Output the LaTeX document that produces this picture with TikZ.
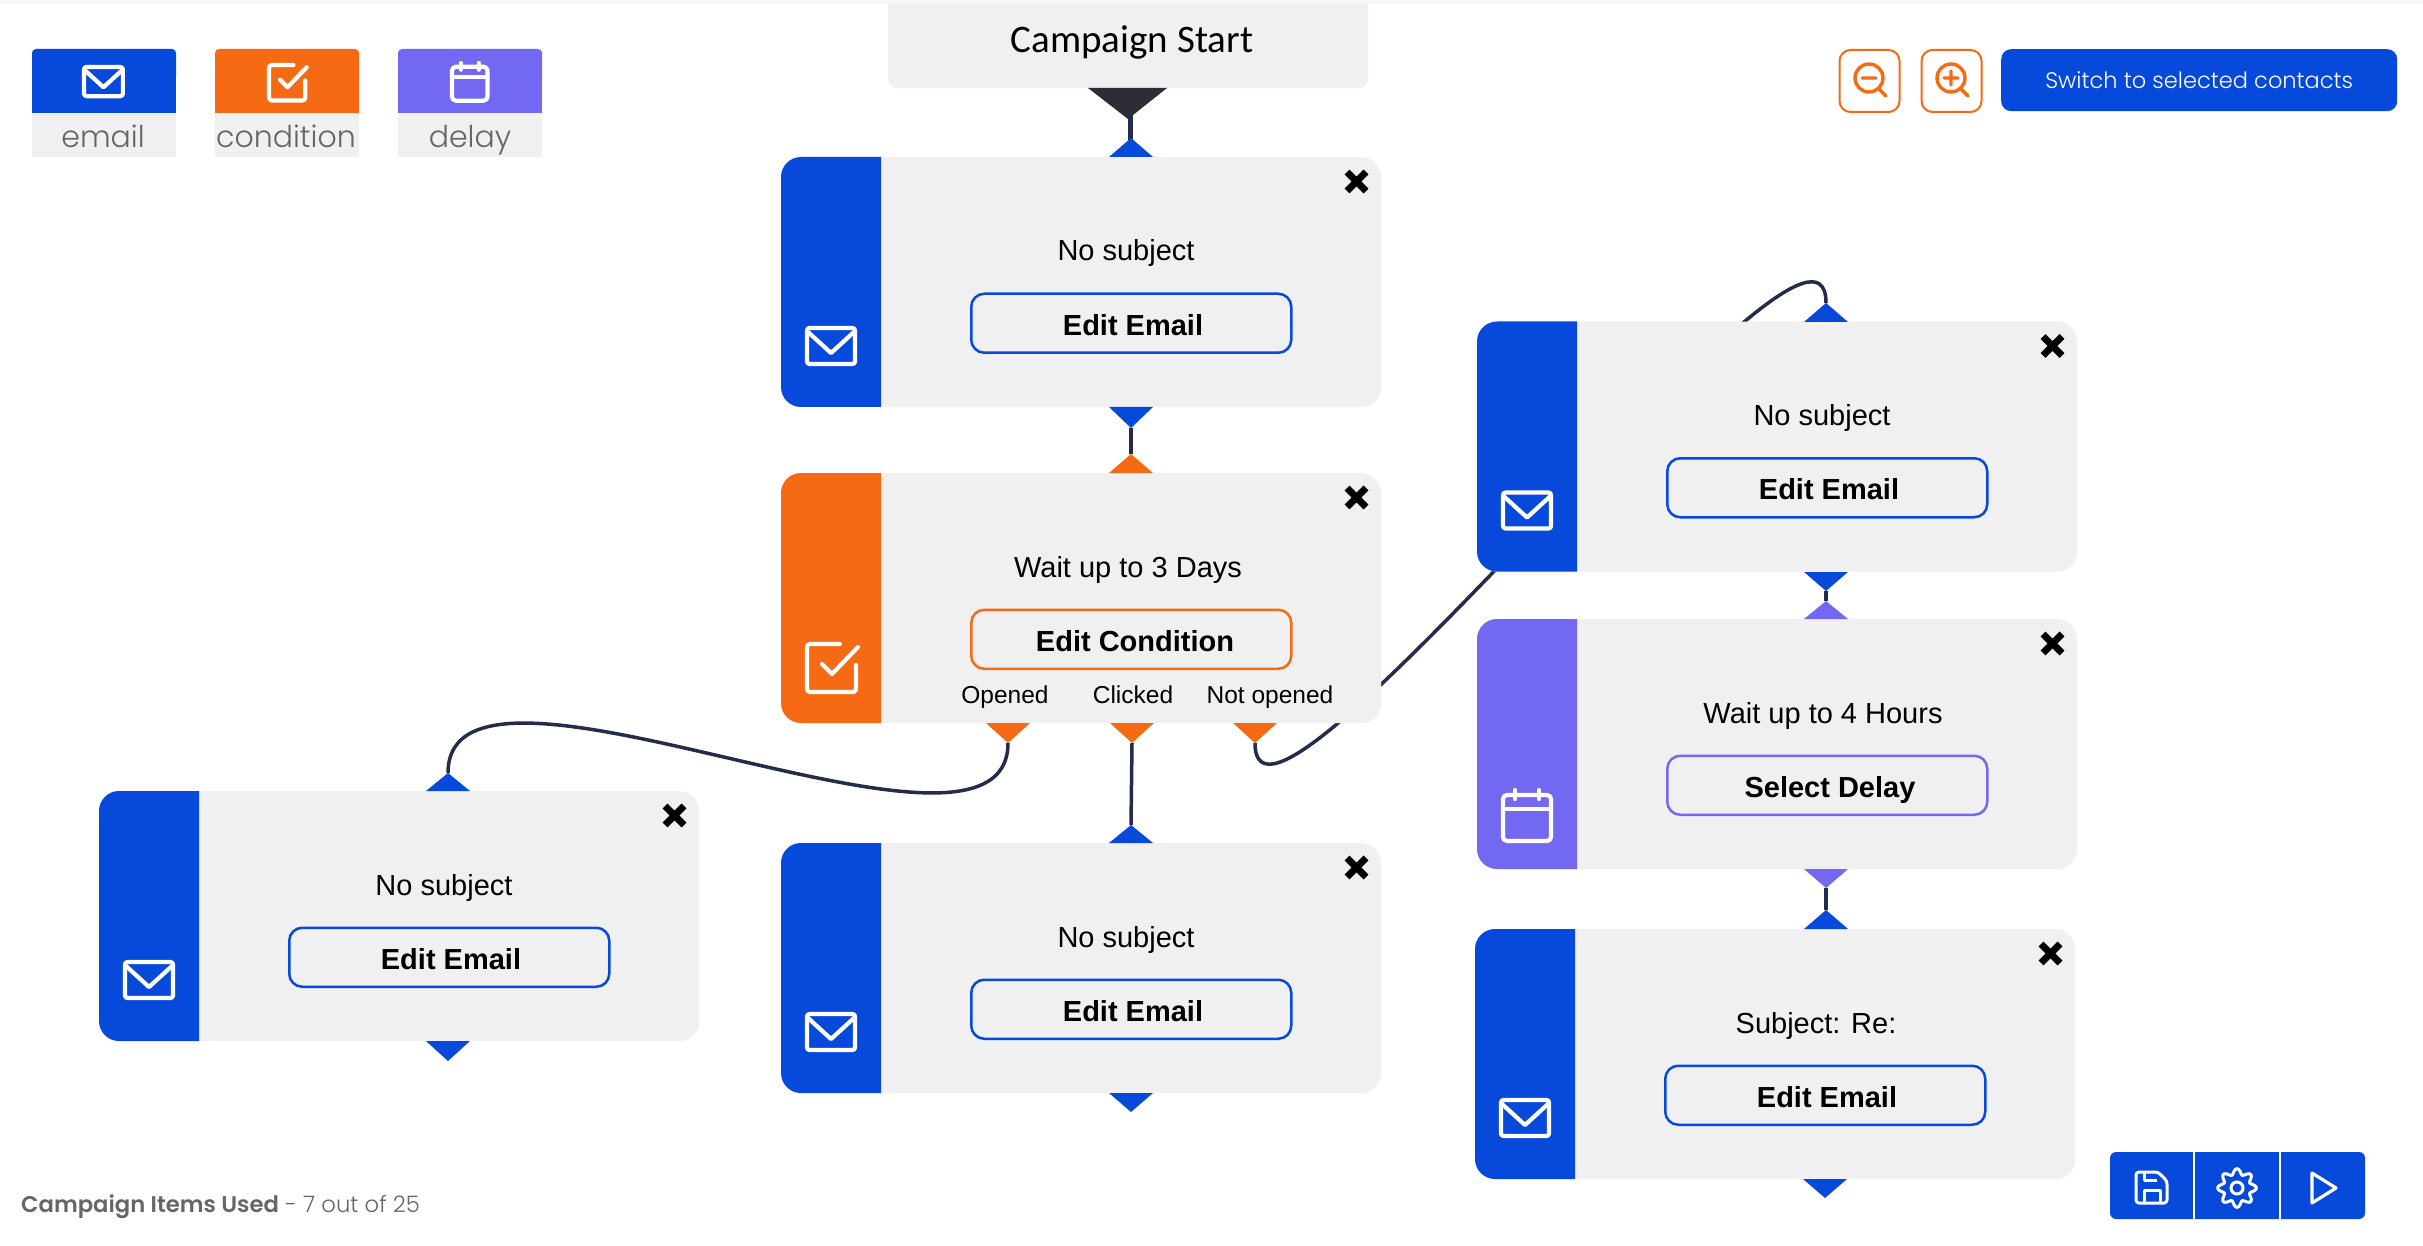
\documentclass[tikz,border=0pt]{standalone}
\usepackage{fontspec}
\setmainfont{Liberation Sans}
\newfontfamily\capfont{Carlito}
\newfontfamily\uifont[BoldFont={* SemiBold}]{Poppins}
\newfontfamily\uilight[UprightFont={* Light}]{Poppins}
\definecolor{cblue}{HTML}{074ADB}
\definecolor{corange}{HTML}{F56A12}
\definecolor{cpurple}{HTML}{7368F2}
\definecolor{cgrey}{HTML}{F0F0F0}
\definecolor{cwire}{HTML}{252B4A}
\definecolor{cdark}{HTML}{2D2D35}
\definecolor{ctext}{HTML}{666666}
\tikzset{
  cardbox/.style={fill=cgrey,draw=none,rounded corners=20pt,minimum width=600pt,minimum height=250pt,inner sep=0pt,anchor=north west},
  wire/.style={draw=cwire,line width=3.5pt},
  iconline/.style={draw=white,line width=4.2pt,line join=round,line cap=round},
  cardtext/.style={font=\fontsize{29}{33}\selectfont,text=black,inner sep=0pt},
  btntext/.style={font=\bfseries\fontsize{29}{33}\selectfont,text=black,inner sep=0pt,text depth=0pt},
  smalltext/.style={font=\fontsize{24.5}{28}\selectfont,text=black,inner sep=0pt,text depth=5pt},
  legendtext/.style={font=\uilight\fontsize{30}{34}\selectfont,text=ctext,inner sep=0pt,anchor=base},
  btnbox/.style={draw=#1,fill=cgrey,line width=2.5pt,rounded corners=13pt,minimum width=320pt,minimum height=59pt,inner sep=0pt,anchor=north west},
  zoombox/.style={draw=corange,fill=white,line width=2pt,rounded corners=11pt,minimum width=60pt,minimum height=62pt,inner sep=0pt,anchor=north west},
}
% envelope, check box and calendar, drawn from the top-left of a 49 wide icon box
\newcommand{\envicon}{%
  \draw[iconline,rounded corners=2.5pt] (0,0) rectangle (48,36);
  \draw[iconline] (1,4) -- (24,25) -- (47,4);}
\newcommand{\chkicon}{%
  \draw[iconline,rounded corners=3pt] (33,0) -- (0,0) -- (0,48) -- (49,48) -- (49,21);
  \draw[iconline] (15,20) -- (25,30) -- (51,3);}
\newcommand{\calicon}{%
  \draw[iconline,rounded corners=4pt] (0,5) rectangle (48,51);
  \draw[iconline] (0,19) -- (48,19);
  \draw[iconline] (12,0) -- (12,9);
  \draw[iconline] (36,0) -- (36,9);}
% \cardbody{name}{L}{T}{colour}{icon}{label}{label x}{button text}{button text x}
\newcommand{\cardbody}[9]{%
  \begin{scope}[shift={(#2,#3)}]
    \node[cardbox] (#1) at (0,0) {};
    \fill[#4] (100,0) [rounded corners=20pt] -- (0,0) -- (0,250) [sharp corners] -- (100,250) -- cycle;
    \begin{scope}[shift={(26,171)}]#5\end{scope}
    \draw[black,line width=7pt] (566,15) -- (585,34) (585,15) -- (566,34);
    \node[cardtext] (#1-label) at (#7,96.5) {#6};
    \node[btnbox=#4] (#1-button) at (189,135.5) {};
    \node[btntext] (#1-buttontext) at (#9,167.5) {#8};
  \end{scope}}
\newcommand{\tip}[5]{% x, base y, apex y, colour
  \fill[#4] (#1-22,#2) -- (#1+22,#2) -- (#1,#3) -- cycle;}
\begin{document}
\begin{tikzpicture}[x=1pt,y=-1pt]
\useasboundingbox (0,0) rectangle (2423,1246);
\fill[white] (0,0) rectangle (2423,1246);
\fill[black!3] (0,0) rectangle (2423,4);

% connector end points
\coordinate (startout) at (1130,115);
\coordinate (c1in) at (1130,140);
\coordinate (c1out) at (1131,428);
\coordinate (c2in) at (1131,454);
\coordinate (opened) at (1008,743);
\coordinate (clicked) at (1132,743);
\coordinate (notopened) at (1255,743);
\coordinate (leftin) at (448,773);
\coordinate (midin) at (1131,825);
\coordinate (rtin) at (1826,303);
\coordinate (rtout) at (1826,591);
\coordinate (pin) at (1826,601);
\coordinate (pout) at (1826,888);
\coordinate (rbin) at (1826,910);

% connectors
\draw[wire,line width=5pt] (startout) -- (c1in);
\draw[wire] (c1out) -- (c2in);
\draw[wire] (opened) .. controls (1008,903) and (448,613) .. (leftin);
\draw[wire] (clicked) -- (midin);
\draw[wire] (notopened) .. controls (1255,898) and (1826,148) .. (rtin);
\draw[wire] (rtout) -- (pin);
\draw[wire] (pout) -- (rbin);

% campaign start
\node[fill=cgrey,rounded corners=10pt,minimum width=480pt,minimum height=90pt,inner sep=0pt,anchor=north west] (start) at (888,-2) {};
\fill[cgrey] (888,0) rectangle (1368,20);
\fill[black!3] (888,0) rectangle (1368,4);
\node[font=\capfont\fontsize{39}{43}\selectfont,text=black,inner sep=0pt] (starttext) at (1132,42) {Campaign Start};
\fill[cdark] (1088,88) -- (1167,88) -- (1128,119) -- cycle;

% cards
\cardbody{card1}{781}{157}{cblue}{\envicon}{No subject}{345}{Edit Email}{352}
\cardbody{card2}{781}{473}{corange}{\chkicon}{Wait up to 3 Days}{347}{Edit Condition}{354}
\cardbody{cardleft}{99}{791}{cblue}{\envicon}{No subject}{345}{Edit Email}{352}
\cardbody{cardmid}{781}{843}{cblue}{\envicon}{No subject}{345}{Edit Email}{352}
\cardbody{cardrt}{1477}{321.5}{cblue}{\envicon}{No subject}{345}{Edit Email}{352}
\cardbody{cardp}{1477}{619}{cpurple}{\calicon}{Wait up to 4 Hours}{346}{Select Delay}{353}
\cardbody{cardrb}{1475}{929}{cblue}{\envicon}{Subject: Re:}{341}{Edit Email}{352}

\node[smalltext] (lopened) at (1005,697) {Opened};
\node[smalltext] (lclicked) at (1133,697) {Clicked};
\node[smalltext] (lnot) at (1270,697) {Not opened};

% connection points
\tip{1131}{157}{138}{cblue}{}
\tip{1131}{407}{428}{cblue}{}
\tip{1131}{473}{454}{corange}{}
\tip{1008}{723}{743}{corange}{}
\tip{1132}{723}{743}{corange}{}
\tip{1255}{723}{743}{corange}{}
\tip{448}{791}{773}{cblue}{}
\tip{448}{1041}{1061}{cblue}{}
\tip{1131}{843}{825}{cblue}{}
\tip{1131}{1093}{1112}{cblue}{}
\tip{1826}{322}{303}{cblue}{}
\tip{1826}{572}{591}{cblue}{}
\tip{1826}{619}{601}{cpurple}{}
\tip{1826}{869}{888}{cpurple}{}
\tip{1826}{929}{910}{cblue}{}
\tip{1825}{1179}{1198}{cblue}{}

% legend
\fill[cgrey] (32,113) rectangle (176,157);
\fill[cblue,rounded corners=4pt] (32,49) rectangle (176,80);
\fill[cblue] (32,70) rectangle (176,113);
\node[legendtext] (lgemail) at (103,147.5) {email};
\begin{scope}[shift={(84,67)},scale=0.81]\envicon\end{scope}
\fill[cgrey] (215,113) rectangle (359,157);
\fill[corange,rounded corners=4pt] (215,49) rectangle (359,80);
\fill[corange] (215,70) rectangle (359,113);
\node[legendtext] (lgcond) at (286,147.5) {condition};
\begin{scope}[shift={(269,65)},scale=0.74]\chkicon\end{scope}
\fill[cgrey] (398,113) rectangle (542,157);
\fill[cpurple,rounded corners=4pt] (398,49) rectangle (542,80);
\fill[cpurple] (398,70) rectangle (542,113);
\node[legendtext] (lgdelay) at (470,147.5) {delay};
\begin{scope}[shift={(452,63)},scale=0.74]\calicon\end{scope}

% top right controls
\node[zoombox] (zoomout) at (1838.5,49) {};
\draw[corange,line width=3.4pt,line cap=round] (1869,78) circle (14) (1879,89) -- (1886,96) (1862,78) -- (1876,78);
\node[zoombox] (zoomin) at (1920.5,49) {};
\draw[corange,line width=3.4pt,line cap=round] (1951,78) circle (14) (1961,89) -- (1968,96) (1944,78) -- (1958,78) (1951,71) -- (1951,85);
\node[fill=cblue,rounded corners=10pt,minimum width=396pt,minimum height=62pt,inner sep=0pt,anchor=north west,font=\uilight\fontsize{22.5}{26}\selectfont,text=white] (switch) at (2001,49) {Switch to selected contacts};

% bottom right tools
\fill[cblue,rounded corners=6pt] (2110,1152) rectangle (2365,1219);
\draw[white,line width=2.2pt] (2194,1152) -- (2194,1219) (2280,1152) -- (2280,1219);
\draw[white,line width=3pt,line join=round,rounded corners=3pt] (2136,1172) -- (2158,1172) -- (2167,1181) -- (2167,1203) -- (2136,1203) -- cycle;
\draw[white,line width=3pt,line join=round] (2144,1203) -- (2144,1190) -- (2160,1190) -- (2160,1203) (2144,1172) -- (2144,1180) -- (2157,1180);
\draw[white,line width=3pt,line join=round,shift={(2237,1188)}] plot[domain=0:360,samples=145,smooth,variable=\a] ({(16.5+2.8*cos(8*\a))*sin(\a)},{(16.5+2.8*cos(8*\a))*cos(\a)}) -- cycle;
\draw[white,line width=3pt] (2237,1188) circle (6);
\draw[white,line width=3.2pt,line join=round] (2312,1173) -- (2336,1188) -- (2312,1203) -- cycle;

% footer
\node[anchor=west,inner sep=0pt,text=ctext,font=\fontsize{22.7}{26}\selectfont] (footer) at (21,1207) {{\uifont\bfseries Campaign Items Used}{\uilight{} - 7 out of 25}};
\end{tikzpicture}
\end{document}
